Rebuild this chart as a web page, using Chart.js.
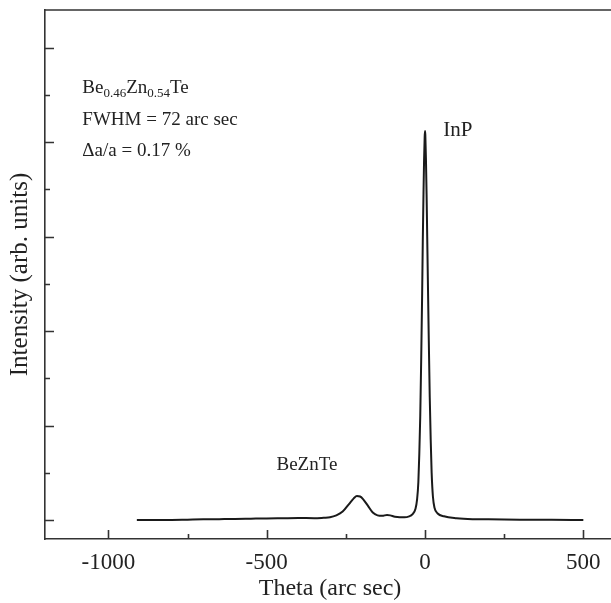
<!DOCTYPE html>
<html>
<head>
<meta charset="utf-8">
<script src="https://cdn.jsdelivr.net/npm/chart.js@4/dist/chart.umd.min.js"></script>
<style>
html,body{margin:0;padding:0;background:#fff;overflow:hidden;}
#wrap{width:618px;height:603px;}
</style>
</head>
<body>
<div id="wrap"><canvas id="c" width="618" height="603"></canvas></div>
<script>
// ---- data ----
const thetaValues = [-910,-850,-800,-750,-700,-650,-600,-550,-500,-450,-400,-350,-320,-300,-280,-260,-240,-225,-215,-205,-195,-180,-165,-150,-135,-120,-110,-95,-80,-65,-50,-40,-30,-25,-21,-18,-15,-12,-9,-7,-5,-3,-1,0,1,3,5,7,9,12,15,18,21,25,30,40,60,100,150,200,300,400,500];
const intensityValues = [0.0,0.0,0.002,0.005,0.008,0.01,0.012,0.015,0.018,0.02,0.022,0.02,0.025,0.03,0.05,0.09,0.17,0.23,0.255,0.25,0.22,0.15,0.08,0.05,0.045,0.055,0.05,0.035,0.03,0.03,0.04,0.06,0.12,0.22,0.40,0.70,1.10,1.70,2.40,2.95,3.40,3.80,4.06,4.12,4.08,3.82,3.45,3.00,2.55,1.90,1.30,0.85,0.50,0.25,0.13,0.07,0.04,0.02,0.01,0.008,0.005,0.003,0.002];
const xTickValues = [-1000,-750,-500,-250,0,250,500];
const xMajorTicks = [-1000,-500,0,500];
const yTickValues = [0,0.5,1,1.5,2,2.5,3,3.5,4,4.5,5];
const yMajorTicks = [0,1,2,3,4,5];
const xTitle = 'Theta (arc sec)';
const yTitle = 'Intensity (arb. units)';
const notes = [
  {parts:[['Be',0],['0.46',1],['Zn',0],['0.54',1],['Te',0]], x:-1082, y:4.52, size:19},
  {parts:[['FWHM = 72 arc sec',0]], x:-1082, y:4.18, size:19},
  {parts:[['\u0394a/a = 0.17 %',0]], x:-1082, y:3.85, size:19},
  {parts:[['InP',0]], x:58, y:4.07, size:21},
  {parts:[['BeZnTe',0]], x:-469, y:0.53, size:19}
];

const SERIF = '"Liberation Serif", "Times New Roman", Times, serif';
const INK = '#222';

const frameAndTicks = {
  id:'frameAndTicks',
  afterDraw(chart){
    const {ctx, chartArea:a, scales:{x, y}} = chart;
    ctx.save();
    ctx.strokeStyle = '#333';
    ctx.lineWidth = 1.6;
    ctx.beginPath();
    ctx.moveTo(a.left, a.top); ctx.lineTo(a.right, a.top); ctx.lineTo(a.right, a.bottom);
    ctx.stroke();
    ctx.beginPath();
    xTickValues.forEach(v=>{
      const px = Math.round(x.getPixelForValue(v))+0.5;
      const len = xMajorTicks.includes(v) ? 9 : 5;
      ctx.moveTo(px, a.bottom); ctx.lineTo(px, a.bottom-len);
    });
    yTickValues.forEach(v=>{
      const py = Math.round(y.getPixelForValue(v))+0.5;
      const len = yMajorTicks.includes(v) ? 9 : 5;
      ctx.moveTo(a.left, py); ctx.lineTo(a.left+len, py);
    });
    ctx.stroke();
    ctx.fillStyle = INK;
    ctx.textBaseline = 'alphabetic';
    notes.forEach(n=>{
      let px = x.getPixelForValue(n.x);
      const py = y.getPixelForValue(n.y);
      n.parts.forEach(([t,sub])=>{
        ctx.font = (sub ? '13px ' : n.size + 'px ') + SERIF;
        ctx.fillText(t, px, py + (sub ? 4 : 0));
        px += ctx.measureText(t).width;
      });
    });
    ctx.restore();
  }
};

new Chart(document.getElementById('c'), {
  type:'line',
  data:{
    datasets:[{
      data: thetaValues.map((t,i)=>({x:t, y:intensityValues[i]})),
      borderColor:'#1a1a1a',
      borderWidth:2,
      pointRadius:0,
      fill:false,
      cubicInterpolationMode:'monotone'
    }]
  },
  options:{
    responsive:false,
    devicePixelRatio:1,
    animation:false,
    layout:{padding:{top:10,right:3,left:0,bottom:0}},
    plugins:{legend:{display:false},tooltip:{enabled:false}},
    scales:{
      x:{
        type:'linear', min:-1200, max:600,
        afterBuildTicks(s){ s.ticks = xMajorTicks.map(v=>({value:v})); },
        afterFit(s){ s.height = 64; },
        grid:{display:false},
        border:{display:true, color:'#333', width:1.6},
        ticks:{color:INK, padding:2, maxRotation:0, autoSkip:false,
               font:{family:SERIF, size:23}, callback:v=>String(v)},
        title:{display:true, text:xTitle, color:INK, font:{family:SERIF, size:24},
               padding:{top:0,bottom:0}}
      },
      y:{
        type:'linear', min:-0.2, max:5.4,
        afterBuildTicks(s){ s.ticks = yTickValues.map(v=>({value:v})); },
        afterFit(s){ s.width = 45; },
        grid:{display:false},
        border:{display:true, color:'#333', width:1.6},
        ticks:{display:false},
        title:{display:true, text:yTitle, color:INK, font:{family:SERIF, size:25},
               padding:{top:5,bottom:0}}
      }
    }
  },
  plugins:[frameAndTicks]
});
</script>
</body>
</html>
